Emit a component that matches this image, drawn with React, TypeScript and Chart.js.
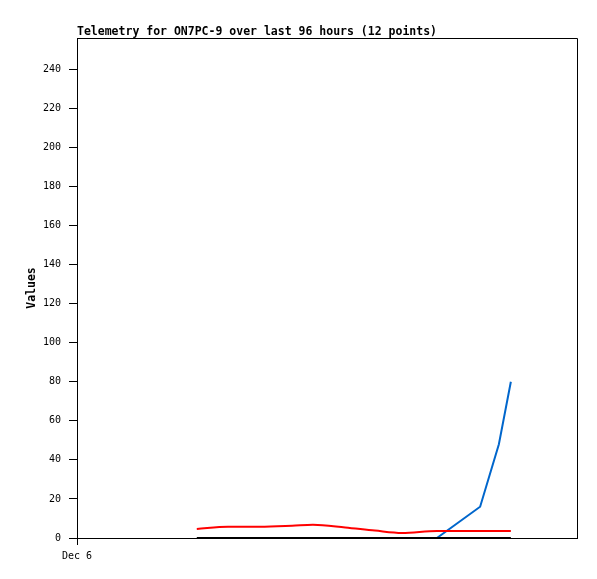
import React, { useEffect, useRef } from "react";
import { Chart, registerables } from "chart.js";

Chart.register(...registerables);

const TITLE = "Telemetry for ON7PC-9 over last 96 hours (12 points)";
const Y_TITLE = "Values";
const X_TICK_LABEL = "Dec 6";

// hours since start of Dec 6
const hours = [23.0, 29.0, 35.1, 41.3, 45.3, 51.5, 57.2, 62.4, 69.1, 77.4, 81.0, 83.3];
const seriesRed = [4.6, 5.8, 5.8, 6.3, 6.8, 5.4, 3.8, 2.6, 3.6, 3.6, 3.6, 3.6];
const seriesBlue = [null, null, null, null, null, null, null, null, 0, 16, 48, 80];
const seriesBlack = [0, 0, 0, 0, 0, 0, 0, 0, 0, 0, 0, 0];

const toPoints = (vals: (number | null)[]) =>
  hours.map((h, i) => ({ x: h, y: vals[i] }));

const TICK_FONT = { family: "'DejaVu Sans Mono', monospace", size: 10 };

export default function App() {
  const ref = useRef<HTMLCanvasElement | null>(null);

  useEffect(() => {
    document.body.style.margin = "0";
    if (!ref.current) return;
    Chart.defaults.color = "#000";

    const framePlugin = {
      id: "framePlugin",
      afterDraw(chart: any) {
        const { ctx, chartArea } = chart;
        ctx.save();
        ctx.strokeStyle = "#000";
        ctx.lineWidth = 1;
        ctx.beginPath();
        ctx.moveTo(chartArea.left, chartArea.top + 0.5);
        ctx.lineTo(chartArea.right + 0.5, chartArea.top + 0.5);
        ctx.lineTo(chartArea.right + 0.5, chartArea.bottom);
        ctx.stroke();
        ctx.fillStyle = "#000";
        ctx.font = "bold 11.5px 'DejaVu Sans Mono', monospace";
        ctx.textAlign = "left";
        ctx.textBaseline = "alphabetic";
        ctx.fillText(TITLE, chartArea.left, 35);
        ctx.restore();
      },
    };

    const chart = new Chart(ref.current, {
      type: "line",
      data: {
        datasets: [
          {
            label: "black",
            data: toPoints(seriesBlack),
            borderColor: "#000000",
            borderWidth: 2,
            pointRadius: 0,
            tension: 0,
          },
          {
            label: "red",
            data: toPoints(seriesRed),
            borderColor: "#ff0000",
            borderWidth: 2,
            pointRadius: 0,
            cubicInterpolationMode: "monotone",
          },
          {
            label: "blue",
            data: toPoints(seriesBlue),
            borderColor: "#0066cc",
            borderWidth: 2,
            pointRadius: 0,
            tension: 0,
            spanGaps: false,
          },
        ],
      },
      options: {
        animation: false,
        responsive: false,
        maintainAspectRatio: false,
        layout: { padding: { top: 38, right: 20, left: 0, bottom: 0 } },
        plugins: {
          legend: { display: false },
          title: { display: false },
          tooltip: { enabled: false },
        },
        scales: {
          x: {
            type: "linear",
            min: 0,
            max: 96,
            afterBuildTicks: (scale: any) => {
              scale.ticks = [{ value: 0 }];
            },
            afterFit: (scale: any) => {
              scale.height = 41;
            },
            ticks: {
              callback: () => X_TICK_LABEL,
              maxRotation: 0,
              autoSkip: false,
              padding: 5,
              color: "#000",
              font: TICK_FONT,
            },
            grid: {
              drawOnChartArea: false,
              drawTicks: true,
              tickLength: 7,
              color: "#000",
            },
            border: { display: true, color: "#000", width: 1 },
          },
          y: {
            type: "linear",
            min: 0,
            max: 256,
            afterFit: (scale: any) => {
              scale.width = 77;
            },
            ticks: {
              stepSize: 20,
              includeBounds: false,
              padding: 8,
              color: "#000",
              font: TICK_FONT,
            },
            grid: {
              drawOnChartArea: false,
              drawTicks: true,
              tickLength: 8,
              color: "#000",
            },
            border: { display: true, color: "#000", width: 1 },
            title: {
              display: true,
              text: Y_TITLE,
              color: "#000",
              padding: { top: 25, bottom: 0 },
              font: { family: "'DejaVu Sans Mono', monospace", size: 11.5, weight: "bold" },
            },
          },
        },
      },
      plugins: [framePlugin],
    } as any);

    return () => chart.destroy();
  }, []);

  return <canvas ref={ref} width={597} height={579} style={{ display: "block" }} />;
}
